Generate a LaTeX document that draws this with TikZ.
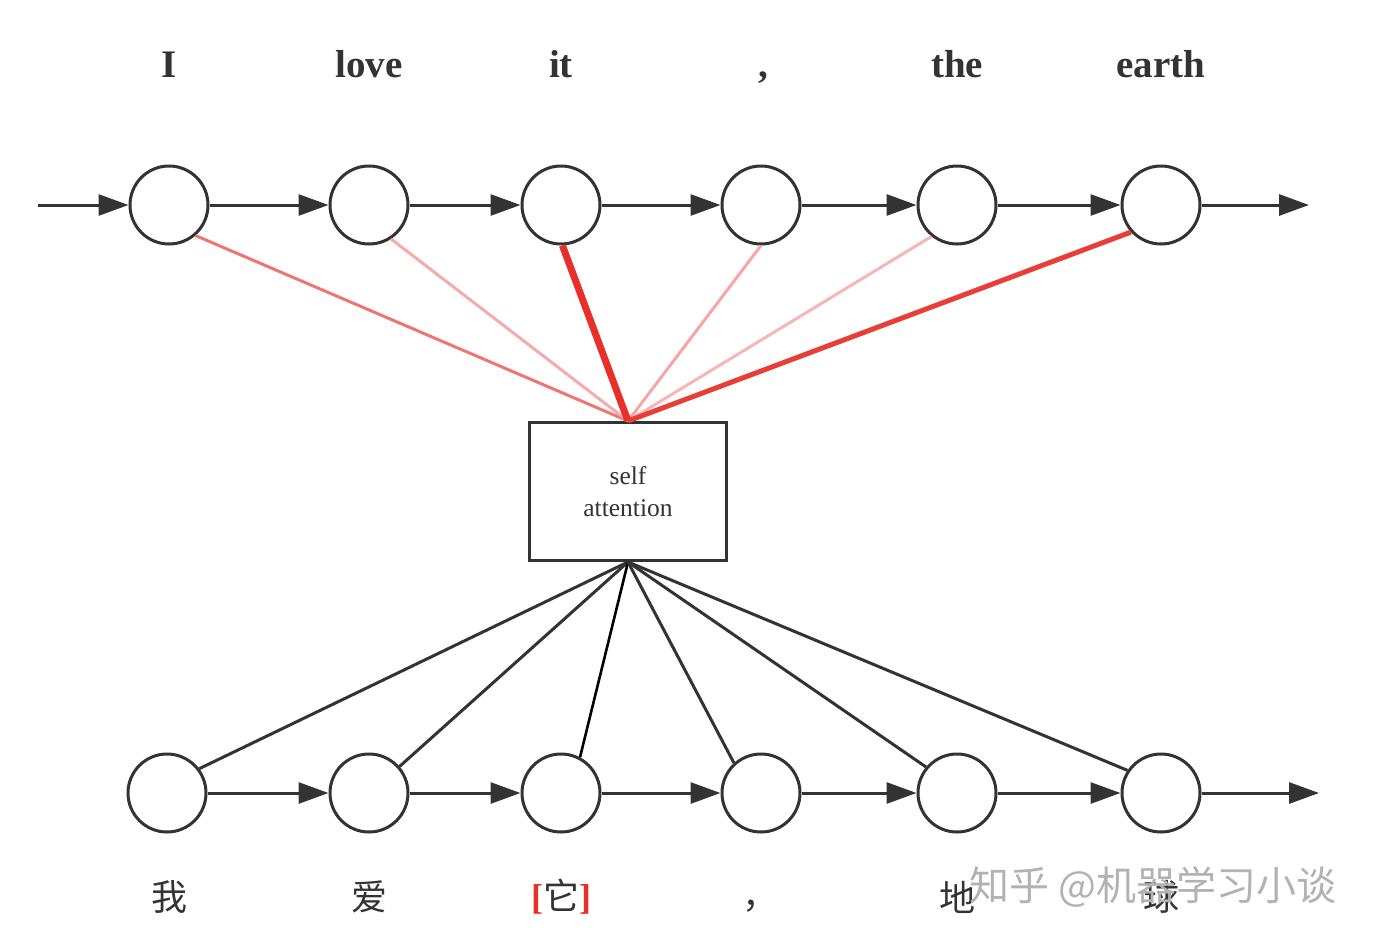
\documentclass[tikz,border=0pt]{standalone}
\usepackage{fontspec}
\setmainfont{Liberation Serif}
\newfontfamily\cjk{Noto Sans CJK SC}
\usetikzlibrary{arrows.meta}
\definecolor{ink}{HTML}{333333}
\definecolor{rA}{HTML}{F07472}
\definecolor{rB}{HTML}{F5ABAA}
\definecolor{rC}{HTML}{E8302A}
\definecolor{rD}{HTML}{F5A6A5}
\definecolor{rE}{HTML}{F7B6B5}
\definecolor{rF}{HTML}{E83E37}
\newcommand\redbrL{\textcolor{rC}{\rmfamily\bfseries[}}
\newcommand\redbrR{\textcolor{rC}{\rmfamily\bfseries]}}
\tikzset{
  x=1pt,y=-1pt,
  cell/.style={circle,draw=ink,line width=3pt,minimum size=78pt,inner sep=0pt,fill=white},
  flow/.style={draw=ink,line width=3pt,-{Triangle[length=30pt,width=21pt]}},
  topword/.style={font=\fontsize{39}{39}\selectfont\bfseries,text=ink,anchor=base},
  cnword/.style={font=\cjk\fontsize{36}{36}\selectfont,text=ink},
  att/.style={line width=3pt},
  back/.style={draw=ink,line width=3pt},
  attbox/.style={draw=ink,line width=3pt,minimum width=197pt,minimum height=138pt,inner sep=0pt,fill=white,align=center,font=\fontsize{25.5}{32}\selectfont,text=ink}
}
\begin{document}
\begin{tikzpicture}
\useasboundingbox (0,0) rectangle (1374,946);
% top labels
\foreach \x/\w/\n in {169/I/w1,369/love/w2,561/it/w3,763/{,}/w4,957/the/w5,1161/earth/w6}
  \node[topword] (\n) at (\x,77) {\w};
% top circles
\foreach \x/\n in {169/t1,369/t2,561/t3,761/t4,957/t5,1161/t6}
  \node[cell] (\n) at (\x,205) {};
% bottom circles
\foreach \x/\n in {167/b1,369/b2,561/b3,761/b4,957/b5,1161/b6}
  \node[cell] (\n) at (\x,793) {};
% box
\node[attbox] (sa) at (628,491.5) {self\\attention};
\coordinate (tin) at (38,205);
\coordinate (tout) at (1309,205);
\coordinate (bout) at (1319,793);
% top flow arrows
\draw[flow] (tin) -- (t1);
\draw[flow] (t1) -- (t2);
\draw[flow] (t2) -- (t3);
\draw[flow] (t3) -- (t4);
\draw[flow] (t4) -- (t5);
\draw[flow] (t5) -- (t6);
\draw[flow] (t6) -- (tout);
% bottom flow arrows
\draw[flow] (b1) -- (b2);
\draw[flow] (b2) -- (b3);
\draw[flow] (b3) -- (b4);
\draw[flow] (b4) -- (b5);
\draw[flow] (b5) -- (b6);
\draw[flow] (b6) -- (bout);
% attention lines (top)
\draw[att,rA] (t1.-49) -- (sa.north);
\draw[att,rB] (t2.-57) -- (sa.north);
\draw[att,rD] (t4.-90) -- (sa.north);
\draw[att,rE] (t5.-129) -- (sa.north);
\draw[rF,line width=5pt] (t6.-138) -- (sa.north);
\draw[rC,line width=7pt] (t3.-88) -- (sa.north);
% lines to bottom
\draw[back] (b1.37) -- (sa.south);
\draw[back] (b2.41) -- (sa.south);
\draw[back,draw=black,line width=2.6pt] (b3.62) -- (sa.south);
\draw[back] (b4.132) -- (sa.south);
\draw[back] (b5.140) -- (sa.south);
\draw[back] (b6.146) -- (sa.south);
% bottom labels
\node[cnword] (c1) at (169,897) {我};
\node[cnword] (c2) at (369,897) {爱};
\node[cnword] (c3) at (561,897) {\redbrL 它\redbrR};
\node[cnword] (c4) at (760,906) {，};
\node[cnword] (c5) at (957,897) {地};
\node[cnword] (c6) at (1161,897) {球};
% watermark
\node[font=\cjk\fontsize{40}{40}\selectfont,text=black!30,anchor=west] (wm) at (966,887) {知乎 @机器学习小谈};
\end{tikzpicture}
\end{document}
